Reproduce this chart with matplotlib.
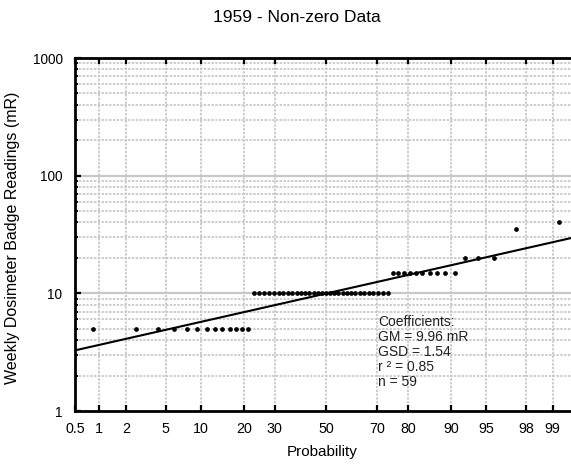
import numpy as np
import matplotlib
matplotlib.use("Agg")
import matplotlib.pyplot as plt
from matplotlib.ticker import FixedLocator, NullFormatter
from statistics import NormalDist

plt.rcParams['font.family'] = ['Liberation Sans', 'DejaVu Sans']

# ---- data ----
reading_values = [5, 10, 15, 20, 35, 40]
reading_counts = [13, 31, 10, 3, 1, 1]
gm = 9.96
gsd = 1.54
r2 = 0.85
x_ticks = [0.5, 1, 2, 5, 10, 20, 30, 50, 70, 80, 90, 95, 98, 99]
x_tick_labels = ["0.5", "1", "2", "5", "10", "20", "30", "50", "70", "80", "90", "95", "98", "99"]
y_ticks = [1, 10, 100, 1000]
y_tick_labels = ["1", "10", "100", "1000"]

readings = np.repeat(reading_values, reading_counts).astype(float)
n = len(readings)
# Hazen plotting positions (percent)
ranks = np.arange(1, n + 1)
probs = (ranks - 0.5) / n * 100.0

nd = NormalDist()


def fwd(p):
    p = np.asarray(p, dtype=float)
    flat = np.clip(p.ravel() / 100.0, 1e-9, 1 - 1e-9)
    return np.array([nd.inv_cdf(v) for v in flat]).reshape(p.shape)


def inv(z):
    z = np.asarray(z, dtype=float)
    return (np.array([nd.cdf(v) for v in z.ravel()]) * 100.0).reshape(z.shape)


fig = plt.figure(figsize=(5.71, 4.65), dpi=100)
ax = fig.add_axes([75 / 571, (465 - 411) / 465, 502 / 571, 353 / 465])
ax.set_xscale('function', functions=(fwd, inv))
ax.set_yscale('log')
ax.set_xlim(0.5, 99.5)
ax.set_ylim(1, 1000)

grid_col = '#c8c8c8'
dot = (0, (1.3, 0.8))
# vertical dotted grid
for xt in x_ticks[1:]:
    ax.axvline(xt, color=grid_col, lw=1.3, ls=dot, zorder=1)
# horizontal grid
for dec in [1, 10, 100]:
    for m in range(2, 10):
        ax.axhline(dec * m, color=grid_col, lw=1.3, ls=dot, zorder=1)
for yt in [10, 100]:
    ax.axhline(yt, color=grid_col, lw=1.6, ls='-', zorder=1)

# fitted line
pline = np.linspace(0.5, 99.5, 400)
ax.plot(pline, gm * gsd ** fwd(pline), color='black', lw=1.5, zorder=3)

# data points
ax.plot(probs, readings, 'o', color='black', ms=3.4, mew=0, zorder=4)

ax.set_xticks(x_ticks, labels=x_tick_labels)
ax.xaxis.set_minor_locator(FixedLocator([]))
ax.set_yticks(y_ticks, labels=y_tick_labels)
ax.yaxis.set_minor_locator(FixedLocator([d * m for d in [1, 10, 100] for m in range(2, 10)]))
ax.yaxis.set_minor_formatter(NullFormatter())

ax.tick_params(axis='x', which='major', direction='in', top=True, bottom=True,
               length=4, width=1.6, labelsize=10.3, pad=8)
ax.tick_params(axis='y', which='major', direction='in', left=True, right=False,
               length=4, width=1.6, labelsize=9.8, pad=9)
ax.tick_params(axis='y', which='minor', direction='in', left=True, right=False,
               length=2.5, width=1.4)

for s in ['left', 'bottom', 'top']:
    ax.spines[s].set_linewidth(2)
ax.spines['right'].set_visible(False)

ax.text((378 - 75) / 502, (411 - 315) / 353,
        "Coefficients:\nGM = %.2f mR\nGSD = %.2f\nr \u00b2 = %.2f\nn = %d" % (gm, gsd, r2, n),
        transform=ax.transAxes, ha='left', va='top', fontsize=10,
        linespacing=1.1, color='#222222', zorder=5)

fig.text(297 / 571, 1 - 18 / 465, "1959 - Non-zero Data", ha='center', va='center', fontsize=12.5)
fig.text(322 / 571, 1 - 452 / 465, "Probability", ha='center', va='center', fontsize=11)
fig.text(13 / 571, 1 - 238 / 465, "Weekly Dosimeter Badge Readings (mR)", ha='center',
         va='center', rotation=90, fontsize=11.5)

fig.savefig("out.png", dpi=100)
